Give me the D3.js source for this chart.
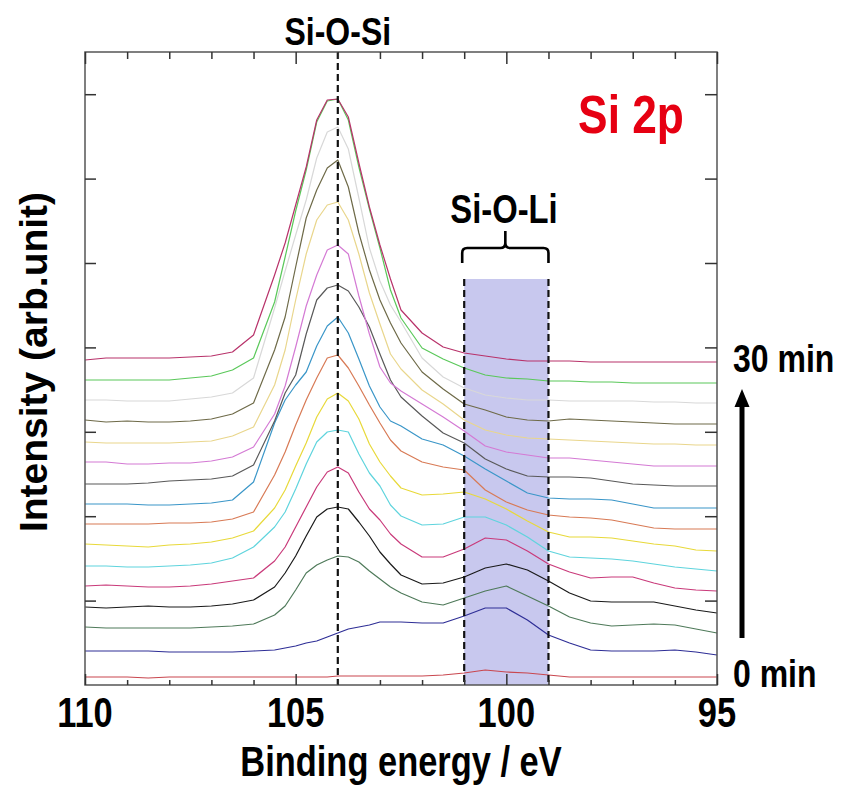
<!DOCTYPE html>
<meta charset="utf-8">
<style>
body { margin: 0; background: #fff; }
text { font-family: "Liberation Sans", Arial, sans-serif; font-weight: bold; }
.spec { fill: none; stroke-width: 1.2px; stroke-linejoin: round; }
.frame { fill: none; stroke: #555; stroke-width: 1.5px; }
.tick line { stroke: #333; stroke-width: 1.5px; }
</style>
<body>
<script src="https://d3js.org/d3.v7.min.js"></script>
<script>
// binding energy grid (eV), finer around the Si-O-Si peak
var energy = [110,109.5,109,108.5,108,107.5,107,106.5,106,105.5,105.25,105,104.75,104.5,104.25,104,
  103.75,103.5,103.25,103,102.75,102.5,102,101.5,101,100.5,100,99.5,99,98.5,98,97.5,97,96.5,96,95.5,95];

// stacked Si 2p spectra, arb. unit, 0 min (s01) to 30 min (s16)
var s01 = [8,8,8,7,8,8,8,8,8,8,8,8,8,8,8,9,9,9,9,9,9,9,9,10,12,15,13,12,10,8,8,8,8,8,8,8,8];
var s02 = [34,34,34,34,33,33,33,33,34,35,37,39,42,44,48,52,56,58,60,63,63,63,62,62,69,77,77,65,50,42,35,34,34,34,35,33,30];
var s03 = [58,57,57,57,57,57,58,59,61,70,79,95,112,120,125,129,128,123,114,106,98,92,83,80,87,94,99,89,79,68,62,59,60,61,60,56,52];
var s04 = [78,77,78,79,78,78,79,81,85,98,112,129,149,168,176,178,176,163,149,133,121,110,101,102,108,117,121,115,104,92,84,83,83,83,79,75,72];
var s05 = [99,100,99,98,98,99,101,104,107,124,138,158,178,198,213,218,212,193,176,165,151,141,128,128,136,147,145,134,121,113,107,108,108,102,97,95,94];
var s06 = [119,119,118,118,119,120,122,127,138,158,173,196,221,243,253,255,253,231,212,199,180,169,160,161,168,168,160,148,134,128,127,126,124,121,118,116,114];
var s07 = [141,140,139,138,140,141,143,147,154,177,195,219,242,268,286,292,284,266,241,223,209,197,190,191,193,186,176,164,153,148,148,147,144,141,139,135,134];
var s08 = [161,161,161,161,162,162,163,166,173,210,233,260,285,307,327,330,317,299,280,262,245,234,223,218,215,195,183,175,170,168,167,165,161,157,156,156,156];
var s09 = [181,181,181,180,180,181,182,185,203,262,285,300,313,339,359,368,352,326,299,278,264,259,246,240,229,216,204,192,187,186,186,185,181,177,177,177,177];
var s10 = [201,201,201,202,204,205,206,209,220,264,292,310,351,385,397,400,394,378,358,331,305,288,269,252,242,226,216,209,208,208,207,204,201,200,199,199,199];
var s11 = [223,223,221,221,222,222,224,228,238,271,299,338,379,410,435,440,431,389,351,318,302,294,281,268,254,239,233,230,227,227,225,223,221,219,219,219,219];
var s12 = [243,242,242,242,242,243,244,249,258,300,335,385,431,465,480,483,465,431,392,361,331,316,295,281,265,255,250,247,246,245,244,243,242,241,241,240,240];
var s13 = [265,263,264,263,263,264,266,271,282,335,368,418,467,495,517,525,498,452,415,385,362,342,313,296,281,275,268,265,264,266,265,264,263,262,261,261,261];
var s14 = [285,285,284,284,284,286,288,292,307,377,414,450,485,527,553,558,536,487,437,404,380,363,327,308,297,290,287,285,285,284,284,284,284,283,283,282,282];
var s15 = [305,305,305,305,305,307,309,315,327,383,428,474,515,563,584,586,565,518,476,437,395,367,337,326,317,310,307,306,304,304,303,303,302,302,302,302,302];
var s16 = [325,327,327,327,327,328,329,333,350,410,442,480,518,565,585,586,568,522,478,440,406,375,352,338,332,329,326,324,324,324,323,323,323,323,323,323,323];

var spectra = [s01,s02,s03,s04,s05,s06,s07,s08,s09,s10,s11,s12,s13,s14,s15,s16];
var colors = ["#c9474f","#2e2e96","#4f7a5a","#1a1a1a","#c93a7a","#5fd4dd","#e8d93a","#d87a55",
              "#3a96c8","#595959","#d47ad4","#e9d68c","#6e6a48","#d8d8d8","#5ac85a","#b8326a"];

var xTickLabels = [110, 105, 100, 95];
var siOSi = 104;            // eV
var siOLi = [101, 99];      // eV band
var bandTop = 406;          // arb. unit
var yMax = 633, yTickStep = 84.4;

var W = 844, H = 793;
var plot = {left: 85, right: 717, top: 52, bottom: 685};

var svg = d3.select("body").append("svg")
    .attr("width", W)
    .attr("height", H);

var x = d3.scaleLinear().domain([110, 95]).range([plot.left, plot.right]);
var y = d3.scaleLinear().domain([0, yMax]).range([plot.bottom, plot.top]);

// Si-O-Li shaded band
svg.append("rect")
    .attr("x", x(siOLi[0]))
    .attr("y", y(bandTop))
    .attr("width", x(siOLi[1]) - x(siOLi[0]))
    .attr("height", y(0) - y(bandTop))
    .attr("fill", "#c8c8ee");

var line = d3.line()
    .x(function(d, i) { return x(energy[i]); })
    .y(function(d) { return y(d); });

svg.selectAll(".spec")
    .data(spectra)
  .enter().append("path")
    .attr("class", "spec")
    .style("stroke", function(d, i) { return colors[i]; })
    .attr("d", line);

// dashed guide lines
svg.append("line")
    .attr("x1", x(siOSi)).attr("x2", x(siOSi))
    .attr("y1", y(yMax)).attr("y2", y(0))
    .attr("stroke", "#111").attr("stroke-width", 2.2)
    .attr("stroke-dasharray", "7,4");

siOLi.forEach(function(e) {
  svg.append("line")
      .attr("x1", x(e)).attr("x2", x(e))
      .attr("y1", y(bandTop)).attr("y2", y(0))
      .attr("stroke", "#111").attr("stroke-width", 2.2)
      .attr("stroke-dasharray", "7,4");
});

// frame
svg.append("rect")
    .attr("class", "frame")
    .attr("x", plot.left).attr("y", plot.top)
    .attr("width", plot.right - plot.left)
    .attr("height", plot.bottom - plot.top);

// ticks, all pointing inward
var minor = d3.range(95, 111).filter(function(v) { return v % 5 !== 0; });
var major = xTickLabels;
var yTicks = d3.range(1, 8).map(function(k) { return k * yTickStep; });

function ticks(axis, tx, ty) {
  svg.append("g")
      .attr("class", "tick")
      .attr("transform", "translate(" + tx + "," + ty + ")")
      .call(axis)
      .call(function(g) { g.select(".domain").remove(); g.selectAll("text").remove(); });
}
ticks(d3.axisBottom(x).tickValues(minor).tickSize(7), 0, plot.top);
ticks(d3.axisBottom(x).tickValues(major).tickSize(12), 0, plot.top);
ticks(d3.axisTop(x).tickValues(minor).tickSize(5), 0, plot.bottom);
ticks(d3.axisTop(x).tickValues(major).tickSize(11), 0, plot.bottom);
ticks(d3.axisRight(y).tickValues(yTicks).tickSize(11), plot.left, 0);
ticks(d3.axisLeft(y).tickValues(yTicks).tickSize(12), plot.right, 0);

// text helper: narrow = horizontal squeeze of the bold face
function label(px, py, str, size, anchor, sx, fill) {
  svg.append("text")
      .attr("transform", "translate(" + px + "," + py + ") scale(" + sx + ",1)")
      .attr("text-anchor", anchor)
      .style("font-size", size + "px")
      .style("fill", fill || "#000")
      .text(str);
}

xTickLabels.forEach(function(v) {
  label(x(v), 727, v, 42, "middle", 0.82);
});
label(401, 776, "Binding energy / eV", 42, "middle", 0.82);

svg.append("text")
    .attr("transform", "translate(47,362) rotate(-90)")
    .attr("text-anchor", "middle")
    .style("font-size", "39px")
    .text("Intensity (arb.unit)");

label(x(siOSi), 45, "Si-O-Si", 39, "middle", 0.82);
label(631, 133, "Si 2p", 54, "middle", 0.82, "#e60012");
label(504, 223, "Si-O-Li", 40, "middle", 0.82);
label(733, 372, "30 min", 39, "start", 0.82);
label(733, 687, "0 min", 39, "start", 0.82);

// brace over the Si-O-Li band
var bx0 = x(siOLi[0]) - 2, bx1 = x(siOLi[1]), bm = (bx0 + bx1) / 2;
svg.append("path")
    .attr("d", "M" + bx0 + ",263 L" + bx0 + ",253 Q" + bx0 + ",248 " + (bx0 + 5) + ",248" +
               " L" + (bm - 5) + ",248 Q" + bm + ",248 " + bm + ",243 L" + bm + ",231" +
               " M" + bm + ",243 Q" + bm + ",248 " + (bm + 5) + ",248" +
               " L" + (bx1 - 5) + ",248 Q" + bx1 + ",248 " + bx1 + ",253 L" + bx1 + ",263")
    .attr("fill", "none")
    .attr("stroke", "#000")
    .attr("stroke-width", 2.6);

// time arrow
svg.append("line")
    .attr("x1", 742).attr("x2", 742)
    .attr("y1", 638).attr("y2", 403)
    .attr("stroke", "#000").attr("stroke-width", 5);
svg.append("path")
    .attr("d", "M742,389 L734.5,407 L749.5,407 Z")
    .attr("fill", "#000");
</script>
</body>
